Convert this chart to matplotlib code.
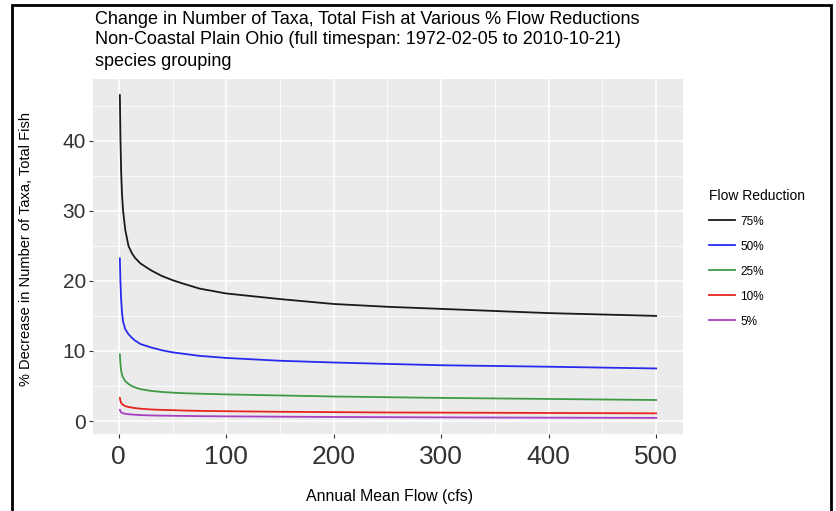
import matplotlib
matplotlib.use("Agg")
import matplotlib.pyplot as plt
from matplotlib.patches import Rectangle

plt.rcParams['font.family'] = ['Liberation Sans', 'DejaVu Sans']

# values
flow = [1, 1.5, 2.2, 3, 4, 6, 9, 12, 15, 20, 30, 40, 50, 60, 75, 100, 150, 200, 250, 300, 400, 500]
red75 = [46.5, 40.5, 35.5, 32.3, 30.0, 27.3, 25.0, 24.0, 23.3, 22.5, 21.5, 20.7, 20.1, 19.6, 18.9, 18.2, 17.4, 16.7, 16.3, 16.0, 15.4, 15.0]
red50 = [23.2, 20.0, 17.3, 15.5, 14.2, 13.1, 12.4, 11.9, 11.5, 11.0, 10.5, 10.1, 9.8, 9.6, 9.3, 9.0, 8.6, 8.35, 8.15, 7.96, 7.75, 7.5]
red25 = [9.5, 8.2, 7.2, 6.6, 6.2, 5.7, 5.3, 5.0, 4.8, 4.55, 4.3, 4.15, 4.05, 3.97, 3.9, 3.8, 3.65, 3.5, 3.4, 3.3, 3.15, 3.0]
red10 = [3.3, 2.9, 2.6, 2.42, 2.3, 2.13, 2.0, 1.92, 1.85, 1.76, 1.65, 1.59, 1.55, 1.5, 1.45, 1.4, 1.32, 1.27, 1.22, 1.2, 1.15, 1.1]
red05 = [1.6, 1.4, 1.25, 1.16, 1.1, 1.03, 0.98, 0.93, 0.9, 0.85, 0.8, 0.77, 0.75, 0.73, 0.7, 0.67, 0.62, 0.58, 0.55, 0.52, 0.48, 0.45]

labels = ["75%", "50%", "25%", "10%", "5%"]
series = [red75, red50, red25, red10, red05]
colors = ["#1a1a1a", "#2a2aee", "#3f9a45", "#e4261f", "#a63fc0"]

fig = plt.figure(figsize=(8.37, 5.11), dpi=100)
ax = fig.add_axes([93/837, 1-434/511, (683-93)/837, (434-79)/511])

ax.set_facecolor("#EBEBEB")
for s in ax.spines.values():
    s.set_visible(False)

ax.set_xticks([0, 100, 200, 300, 400, 500])
ax.set_xticks([50, 150, 250, 350, 450], minor=True)
ax.set_yticks([0, 10, 20, 30, 40])
ax.set_yticks([5, 15, 25, 35, 45], minor=True)
ax.grid(which="major", color="white", linewidth=1.1)
ax.grid(which="minor", color="white", linewidth=0.55)
ax.set_axisbelow(True)
ax.tick_params(which="major", length=3, width=0.8, color="#333333")
ax.tick_params(which="minor", length=0)
ax.tick_params(axis="x", labelsize=19, labelcolor="#333333", pad=5)
ax.tick_params(axis="y", labelsize=15, labelcolor="#333333", pad=2)

lines = []
for vals, lab, col in zip(series, labels, colors):
    ln, = ax.plot(flow, vals, color=col, linewidth=1.3, label=lab)
    lines.append(ln)

ax.set_xlim(-24, 525)
ax.set_ylim(-1.85, 48.8)

ax.set_xlabel("Annual Mean Flow (cfs)", fontsize=11.4, labelpad=0)
ax.xaxis.set_label_coords((390-93)/590, -(489-434)/355)
ax.set_ylabel("% Decrease in Number of Taxa, Total Fish", fontsize=10.5)
ax.yaxis.set_label_coords(-(93-33)/590, (434-248.5)/355)

leg = fig.legend(handles=lines, labels=labels, title="Flow Reduction",
                 loc="upper left", bbox_to_anchor=(698/837, 1-178/511),
                 frameon=False, fontsize=8.5, title_fontsize=10,
                 handlelength=2.2, handletextpad=0.5, labelspacing=1.1)
leg._legend_box.align = "left"
for h in leg.legend_handles:
    h.set_linewidth(1.3)

titles = ["Change in Number of Taxa, Total Fish at Various % Flow Reductions",
          "Non-Coastal Plain Ohio (full timespan: 1972-02-05 to 2010-10-21)",
          "species grouping"]
for i, t in enumerate(titles):
    fig.text(95/837, 1-(19 + 21*i)/511, t, fontsize=13, va="center", ha="left")

fig.patches.append(Rectangle((12/837, -0.05), (831-12)/837, 1-5/511+0.05,
                             transform=fig.transFigure, fill=False,
                             edgecolor="black", linewidth=2))

fig.savefig("out.png", dpi=100)
